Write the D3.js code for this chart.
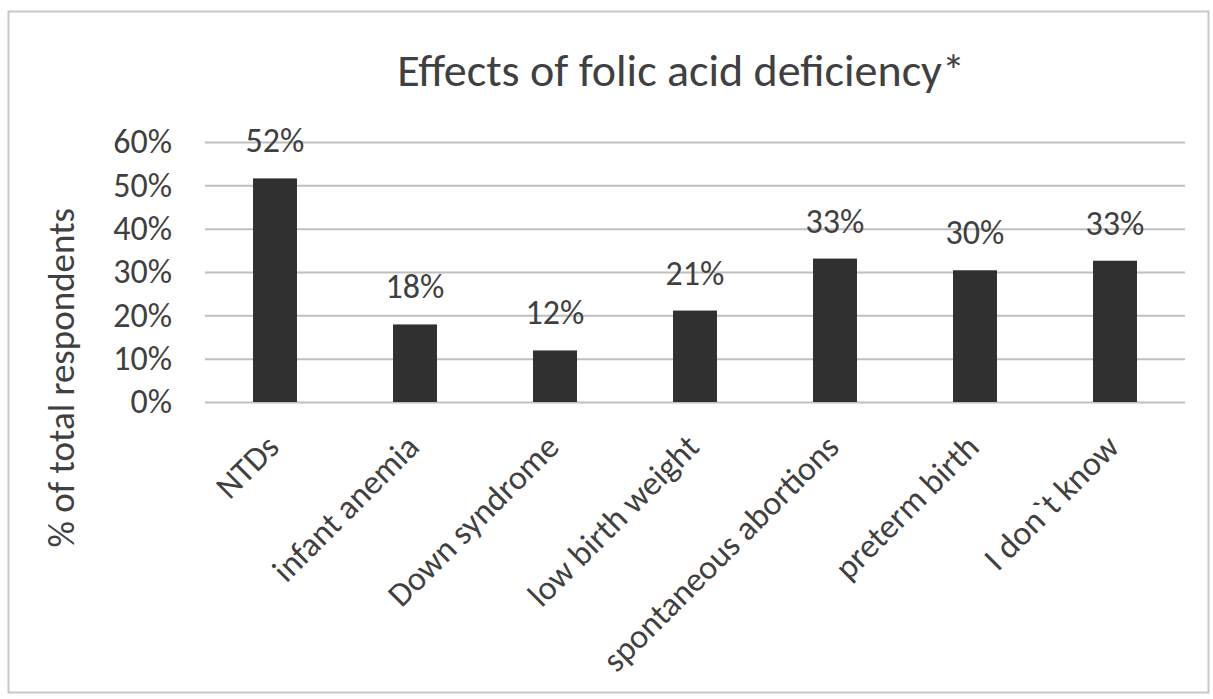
<!DOCTYPE html>
<html>
<head>
<meta charset="utf-8">
<script src="https://cdn.jsdelivr.net/npm/d3@7"></script>
<style>
  html, body { margin: 0; padding: 0; background: #ffffff; }
  svg { display: block; }
  text { font-family: Carlito, Calibri, Lato, "Open Sans", sans-serif; fill: #404040; }
</style>
</head>
<body>
<svg id="chart" width="1213" height="699"></svg>
<script>
// Survey answers: which effects respondents attribute to folic acid deficiency
const categories = ["NTDs", "infant anemia", "Down syndrome", "low birth weight",
                    "spontaneous abortions", "preterm birth", "I don`t know"];
const shares = [0.516, 0.179, 0.119, 0.211, 0.331, 0.304, 0.326];
const shareLabels = ["52%", "18%", "12%", "21%", "33%", "30%", "33%"];
const yTickValues = [0, 0.1, 0.2, 0.3, 0.4, 0.5, 0.6];

const chartTitle = "Effects of folic acid deficiency*";
const yAxisTitle = "% of total respondents";

const W = 1213, H = 699;
const plot = { left: 205, right: 1185, top: 142, bottom: 402 };

const svg = d3.select("#chart");

svg.append("rect").attr("x", 0).attr("y", 0).attr("width", W).attr("height", H).attr("fill", "#ffffff");

// chart frame
svg.append("rect")
  .attr("x", 8.5).attr("y", 11.5).attr("width", 1200).attr("height", 681)
  .attr("fill", "none").attr("stroke", "#c8c8c8").attr("stroke-width", 2);

const x = d3.scaleBand()
  .domain(categories)
  .range([plot.left, plot.right])
  .paddingInner(0.686)
  .paddingOuter(0.343);

const y = d3.scaleLinear()
  .domain([0, 0.6])
  .range([plot.bottom, plot.top]);

// value axis with horizontal gridlines
const yAxis = d3.axisLeft(y)
  .tickValues(yTickValues)
  .tickFormat(d3.format(".0%"))
  .tickSize(-(plot.right - plot.left))
  .tickPadding(33);

const gy = svg.append("g")
  .attr("transform", `translate(${plot.left},0)`)
  .call(yAxis);
gy.select(".domain").remove();
gy.selectAll(".tick line").attr("stroke", "#bfbfbf").attr("stroke-width", 2);
gy.selectAll(".tick text")
  .style("font-size", "34px")
  .attr("fill", "#404040");

// bars
svg.append("g").selectAll("rect")
  .data(categories)
  .join("rect")
  .attr("x", d => x(d))
  .attr("width", x.bandwidth())
  .attr("y", (d, i) => y(shares[i]))
  .attr("height", (d, i) => y(0) - y(shares[i]))
  .attr("fill", "#303030");

// value labels above bars
svg.append("g").selectAll("text")
  .data(categories)
  .join("text")
  .attr("x", d => x(d) + x.bandwidth() / 2)
  .attr("y", (d, i) => y(shares[i]) - 26)
  .attr("text-anchor", "middle")
  .style("font-size", "34px")
  .text((d, i) => shareLabels[i]);

// category axis labels, slanted
const xAxis = d3.axisBottom(x).tickSize(0).tickPadding(0);
const gx = svg.append("g")
  .attr("transform", `translate(0,${plot.bottom})`)
  .call(xAxis);
gx.select(".domain").remove();
gx.selectAll(".tick text")
  .attr("text-anchor", "end")
  .attr("dy", null)
  .attr("y", 0)
  .attr("transform", "translate(6,47) rotate(-45)")
  .style("font-size", "34px")
  .attr("fill", "#404040");

// axis title
svg.append("text")
  .attr("transform", "translate(74,208) rotate(-90)")
  .attr("text-anchor", "end")
  .style("font-size", "37px")
  .text(yAxisTitle);

// chart title
svg.append("text")
  .attr("x", 681)
  .attr("y", 86)
  .attr("text-anchor", "middle")
  .style("font-size", "46px")
  .text(chartTitle);
</script>
</body>
</html>
